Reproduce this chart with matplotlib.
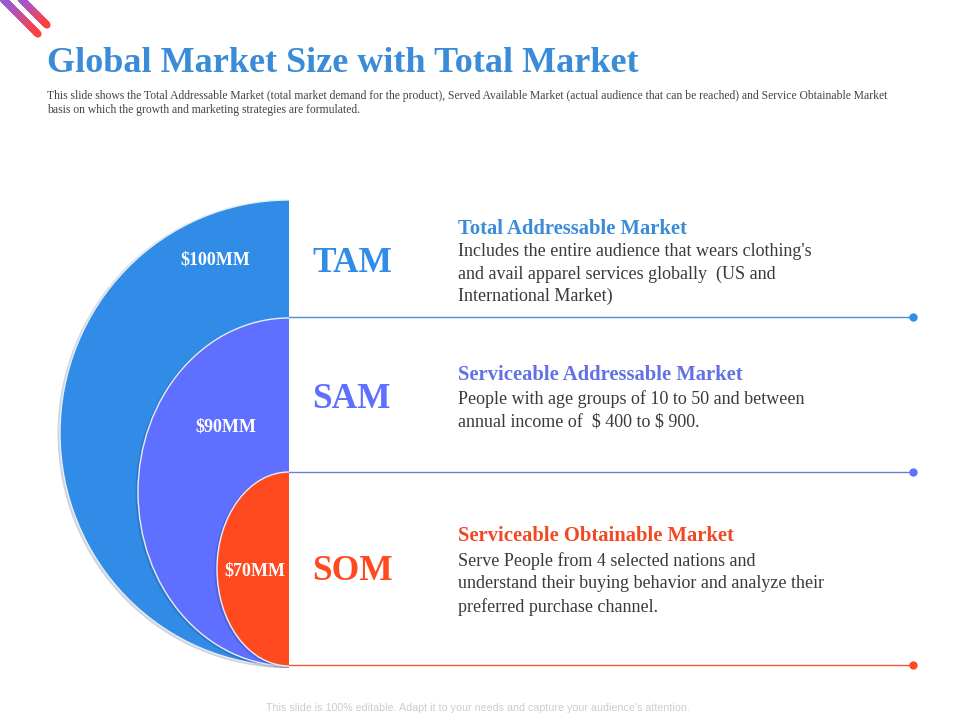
import numpy as np
import matplotlib
matplotlib.use("Agg")
import matplotlib.pyplot as plt
from matplotlib.patches import Ellipse, Rectangle
from matplotlib.collections import LineCollection
from matplotlib.colors import LinearSegmentedColormap

segments = ["TAM", "SAM", "SOM"]
values = ["$100MM", "$90MM", "$70MM"]
colors = ["#318CE7", "#5F6FFF", "#FF4A20"]
heading_colors = ["#3A8BD8", "#6272E4", "#F04A25"]
line_colors = ["#4A8FD8", "#7078D8", "#F0553A"]
headings = ["Total Addressable Market", "Serviceable Addressable Market", "Serviceable Obtainable Market"]
bodies = [
    ["Includes the entire audience that wears clothing's",
     "and avail apparel services globally  (US and",
     "International Market)"],
    ["People with age groups of 10 to 50 and between",
     "annual income of  \\$ 400 to \\$ 900."],
    ["Serve People from 4 selected nations and",
     "understand their buying behavior and analyze their",
     "preferred purchase channel."],
]
title = "Global Market Size with Total Market"
subtitle = ["This slide shows the Total Addressable Market (total market demand for the product), Served Available Market (actual audience that can be reached) and Service Obtainable Market",
            "basis on which the growth and marketing strategies are formulated."]
footer = "This slide is 100% editable. Adapt it to your needs and capture your audience's attention."

# geometry in slide pixels: (top, bottom, left) of each half ellipse
arcs = [(200, 666, 60), (318, 666, 138), (472, 666, 217)]
spine_x = 289
line_y = [317, 471.5, 665]
line_end = 913
label_xy = [(215, 260), (226, 427), (255, 571)]
code_y = [263, 399, 572]
head_y = [229, 375, 536]
body_y = [[252, 274, 296], [399, 422], [561, 584, 607]]

plt.rcParams['font.family'] = ['Liberation Serif', 'DejaVu Serif']
fig = plt.figure(figsize=(9.6, 7.2), dpi=100)
ax = fig.add_axes([0, 0, 1, 1])
ax.set_xlim(0, 960)
ax.set_ylim(720, 0)
ax.axis('off')

# corner stripes with gradient
cmap = LinearSegmentedColormap.from_list("s", ["#6C6CF5", "#B054B8", "#FF4040"])
for x0, y0, x1, y1 in [(-6, -10, 38, 34), (12, -10, 47, 25)]:
    t = np.linspace(0, 1, 60)
    xs = x0 + (x1 - x0) * t
    ys = y0 + (y1 - y0) * t
    pts = np.column_stack([xs, ys]).reshape(-1, 1, 2)
    segs = np.concatenate([pts[:-1], pts[1:]], axis=1)
    lc = LineCollection(segs, cmap=cmap, linewidths=5.2, capstyle='round', zorder=2)
    lc.set_array(t[:-1])
    ax.add_collection(lc)

ax.text(47, 63, title, fontsize=26, fontweight='bold', color="#3A8BD8", va='center', ha='left')
for y, s in zip([96, 110], subtitle):
    ax.text(47, y, s, fontsize=8.4, color="#444444", va='center', ha='left')

# half ellipses
for i, ((top, bot, left), col) in enumerate(zip(arcs, colors)):
    cy = (top + bot) / 2
    h = bot - top
    w = 2 * (spine_x - left)
    clip = Rectangle((0, 0), spine_x, 720, transform=ax.transData)
    shadow = Ellipse((spine_x - 1.5, cy + 1), w + 2, h + 2, fc="#1A2A55", alpha=0.2, ec='none', zorder=3 + i * 2)
    ax.add_patch(shadow)
    shadow.set_clip_path(clip)
    e = Ellipse((spine_x, cy), w, h, fc=col, ec="#E6EEF8", lw=1.0, zorder=4 + i * 2)
    ax.add_patch(e)
    e.set_clip_path(clip)

for (x, y), v in zip(label_xy, values):
    ax.text(x, y, v.replace("$", "\\$"), fontsize=13, fontweight='bold', color="white", va='center', ha='center', zorder=12)

for i in range(3):
    ax.plot([spine_x, line_end], [line_y[i]] * 2, color=line_colors[i], lw=1.0, zorder=2)
    ax.scatter([line_end], [line_y[i]], s=36, color=colors[i], zorder=3, lw=0)
    ax.text(312, code_y[i], segments[i], fontsize=25.5, fontweight='bold', color=colors[i], va='center', ha='left')
    ax.text(458, head_y[i], headings[i], fontsize=14.85, fontweight='bold', color=heading_colors[i], va='center', ha='left')
    for y, s in zip(body_y[i], bodies[i]):
        ax.text(458, y, s, fontsize=13, color="#3A3A3A", va='center', ha='left')

ax.text(477.5, 708, footer, fontsize=7.65, color="#CCCCCC", va='center', ha='center', family=['Liberation Sans'])

fig.savefig("out.png", dpi=100)
